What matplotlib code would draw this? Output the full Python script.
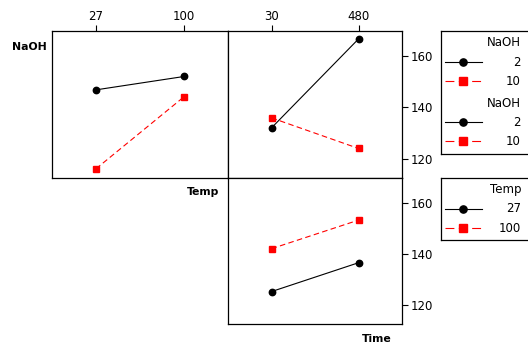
import matplotlib
matplotlib.use("Agg")
import matplotlib.pyplot as plt
from matplotlib.lines import Line2D

W, H = 528, 345
plt.rcParams.update({"font.family": "DejaVu Sans", "font.size": 8.5})

# ---- data ----
temp_levels = ["27", "100"]
time_levels = ["30", "480"]
naoh_levels = ["2", "10"]

naoh_by_temp = {"2": [146.8, 152.0], "10": [116.1, 144.1]}
naoh_by_time = {"2": [132.0, 166.6], "10": [135.9, 124.0]}
temp_by_time = {"27": [125.2, 136.5], "100": [142.0, 153.2]}

yticks = [120, 140, 160]
YLIM = (112.5, 169.7)

STYLES = [dict(color="black", ls="-", marker="o", ms=4.6, lw=0.8),
          dict(color="#ff0000", ls=(0, (5, 3)), marker="s", ms=4.8, lw=0.8)]


def rect(x0, y0, x1, y1):
    return [x0 / W, (H - y1) / H, (x1 - x0) / W, (y1 - y0) / H]


fig = plt.figure(figsize=(W / 100, H / 100), dpi=100)


def panel(r, xlabels, series, top=True, right=True):
    ax = fig.add_axes(rect(*r))
    for st, (k, vals) in zip(STYLES, series.items()):
        ax.plot(range(len(xlabels)), vals, **st)
    ax.set_xlim(-0.5, len(xlabels) - 0.5)
    ax.set_ylim(*YLIM)
    if top:
        ax.xaxis.tick_top()
        ax.set_xticks(range(len(xlabels)))
        ax.set_xticklabels(xlabels)
    else:
        ax.set_xticks([])
    if right:
        ax.yaxis.tick_right()
        ax.set_yticks(yticks)
    else:
        ax.set_yticks([])
    ax.tick_params(length=4, width=0.8, pad=2, colors="black", labelsize=8.5)
    for s in ax.spines.values():
        s.set_linewidth(0.9)
    return ax


panel((52, 31, 228, 178), temp_levels, naoh_by_temp, top=True, right=False)
panel((228, 31, 402, 178), time_levels, naoh_by_time, top=True, right=True)
panel((228, 178, 402, 324), time_levels, temp_by_time, top=False, right=True)

fig.text(12 / W, 1 - 47 / H, "NaOH", fontweight="bold", fontsize=7.8, va="center")
fig.text(219 / W, 1 - 192 / H, "Temp", fontweight="bold", fontsize=7.8, va="center", ha="right")
fig.text(392 / W, 1 - 339 / H, "Time", fontweight="bold", fontsize=7.8, va="center", ha="right")


def legend_box(y0, y1, groups):
    ax = fig.add_axes(rect(441, y0, 545, y1))
    ax.set_xlim(441, 545)
    ax.set_ylim(y1, y0)
    ax.set_xticks([]); ax.set_yticks([])
    for s in ax.spines.values():
        s.set_linewidth(0.9)
    y = y0 + 12
    for title, labels in groups:
        ax.text(521, y, title, ha="right", va="center", fontsize=8.5)
        y += 19
        for st, lab in zip(STYLES, labels):
            ls = "-" if st["ls"] == "-" else (0, (8, 4))
            ax.add_line(Line2D([445, 482], [y, y], color=st["color"], ls=ls, lw=st["lw"]))
            ax.plot([463.5], [y], marker=st["marker"], color=st["color"], ms=st["ms"] + 0.6)
            ax.text(521, y, lab, ha="right", va="center", fontsize=8.5)
            y += 19
        y += 3


legend_box(31, 154, [("NaOH", naoh_levels), ("NaOH", naoh_levels)])
legend_box(178, 240, [("Temp", temp_levels)])

fig.savefig("out.png", dpi=100)
